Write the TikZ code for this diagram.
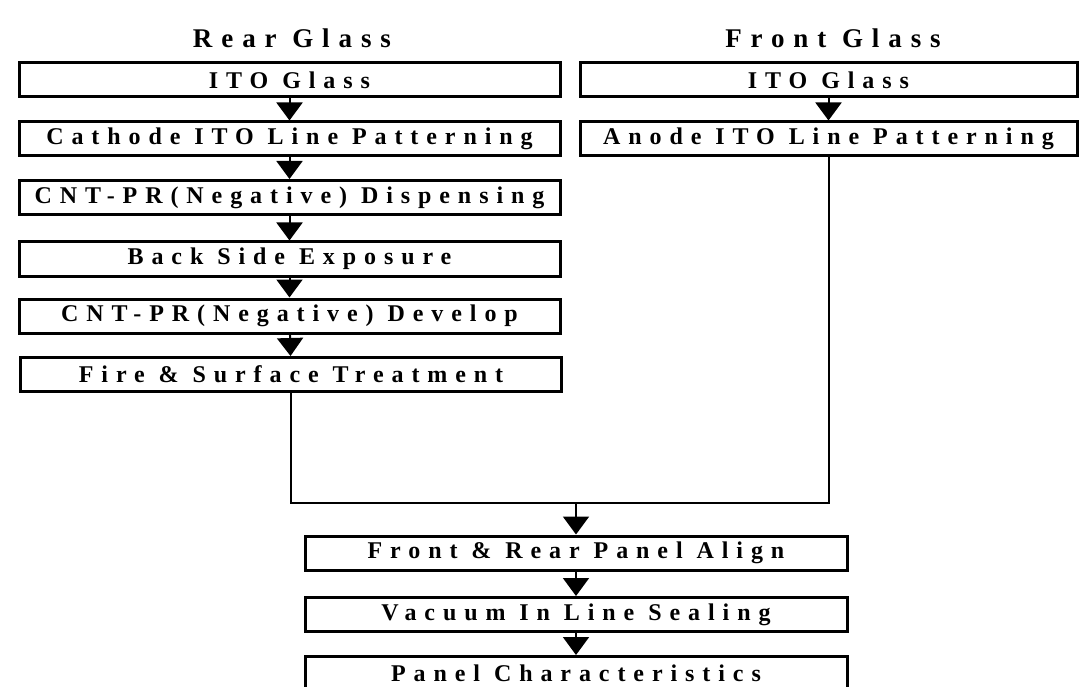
\documentclass[tikz,border=0pt]{standalone}
\usepackage{fontspec}
\setmainfont{Liberation Serif}[LetterSpace=33]
\usetikzlibrary{arrows.meta}
\tikzstyle{procbox}=[rectangle, draw, line width=3pt, inner sep=0pt, minimum height=34pt, font=\fontsize{24}{26}\selectfont\bfseries]
\tikzstyle{coltitle}=[inner sep=0pt, font=\fontsize{27}{29}\selectfont\bfseries]
\tikzstyle{flow}=[line width=2pt, -{Triangle[width=26pt,length=18pt]}]
\newcommand{\procbox}{\node[procbox]}

\begin{document}
\begin{tikzpicture}[x=1pt, y=-1pt]
            \useasboundingbox (0,0) rectangle (1079,687);
            \node[coltitle] (reartitle) at (292,38) {Rear Glass};
            \node[coltitle] (fronttitle) at (833,38) {Front Glass};
            % rear glass column
            \procbox[minimum width=541pt] (rito) at (289.5,80) {ITO Glass};
            \procbox[minimum width=541pt] (cathode) at (289.5,139) {Cathode ITO Line Patterning};
            \procbox[minimum width=541pt] (dispense) at (289.5,197.5) {CNT-PR(Negative) Dispensing};
            \procbox[minimum width=541pt] (expose) at (289.5,259) {Back Side Exposure};
            \procbox[minimum width=541pt] (develop) at (289.5,316) {CNT-PR(Negative) Develop};
            \procbox[minimum width=541pt] (fire) at (291,374.5) {Fire \& Surface Treatment};
            % front glass column
            \procbox[minimum width=497pt] (fito) at (828.5,80) {ITO Glass};
            \procbox[minimum width=497pt] (anode) at (828.5,139) {Anode ITO Line Patterning};
            % panel
            \procbox[minimum width=542pt] (align) at (576,553) {Front \& Rear Panel Align};
            \procbox[minimum width=542pt] (seal) at (576,614.5) {Vacuum In Line Sealing};
            \procbox[minimum width=542pt] (chars) at (576,673.5) {Panel Characteristics};
            \coordinate (join) at (576,503);
            \path[flow]
                (rito) edge (cathode)
                (cathode) edge (dispense)
                (dispense) edge (expose)
                (expose) edge (develop)
                (develop) edge (fire)
                (fito) edge (anode)
                (align) edge (seal)
                (seal) edge (chars)
            ;
            \draw[line width=2pt] (fire.south) |- (join) -| (anode.south);
            \draw[flow] (join) -- (align.north);
        \end{tikzpicture}
\end{document}
